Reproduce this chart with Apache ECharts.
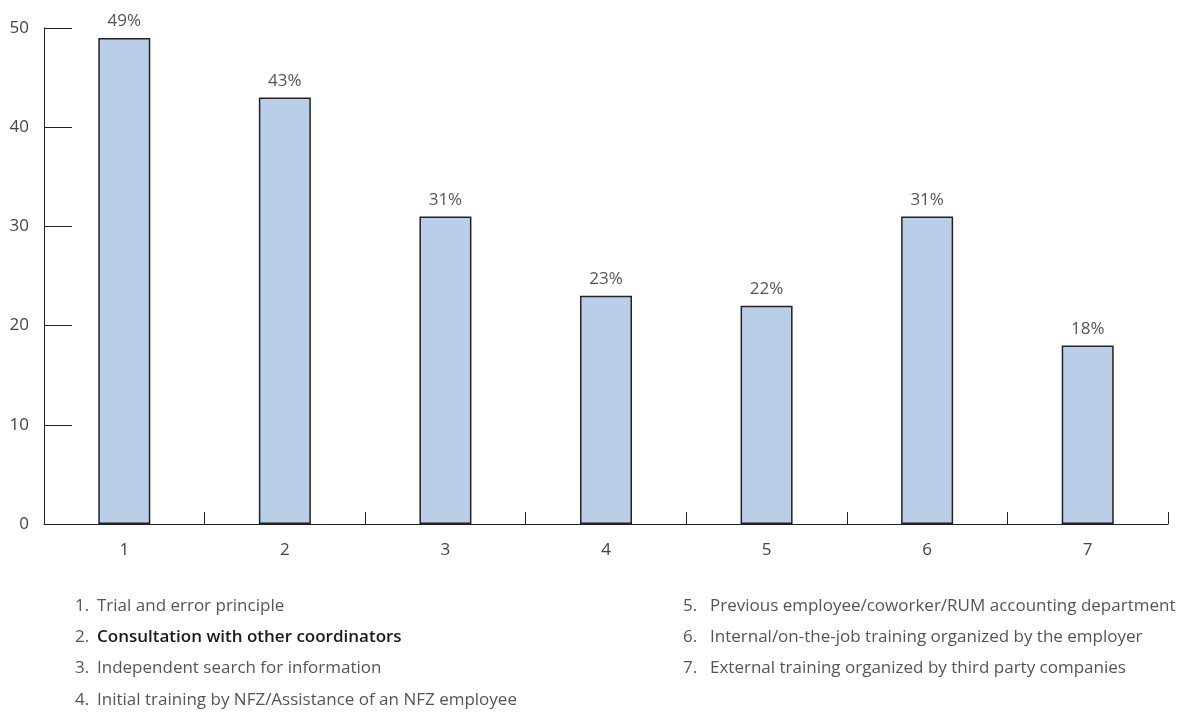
<!DOCTYPE html>
<html>
<head>
<meta charset="utf-8">
<script src="https://cdn.jsdelivr.net/npm/echarts@6/dist/echarts.min.js"></script>
<style>
  html, body { margin: 0; padding: 0; background: #fff; }
  #chart { width: 1180px; height: 713px; }
</style>
</head>
<body>
<div id="chart"></div>
<script>
// categories and values
var categories = ['1', '2', '3', '4', '5', '6', '7'];
var values = [49, 43, 31, 23, 22, 31, 18];
var yTicks = [0, 10, 20, 30, 40, 50];
var notesLeft = [
  'Trial and error principle',
  'Consultation with other coordinators',
  'Independent search for information',
  'Initial training by NFZ/Assistance of an NFZ employee'
];
var notesRight = [
  'Previous employee/coworker/RUM accounting department',
  'Internal/on-the-job training organized by the employer',
  'External training organized by third party companies'
];

var font = '"Open Sans", "Noto Sans", sans-serif';

// the numbered explanations under the chart
var graphics = [];
function addNotes(list, start, numX, textX) {
  for (var i = 0; i < list.length; i++) {
    var n = start + i;
    var strong = n === 2;
    var y = 606 + i * 31.3;
    graphics.push({
      type: 'text', x: numX, y: y,
      style: {
        text: n + '.', fill: '#555', fontSize: 17, fontFamily: font,
        verticalAlign: 'middle'
      }
    });
    graphics.push({
      type: 'text', x: textX, y: y,
      style: {
        text: list[i],
        fill: strong ? '#1a1a1a' : '#555',
        fontSize: 17,
        fontWeight: strong ? 600 : 'normal',
        fontFamily: font,
        verticalAlign: 'middle'
      }
    });
  }
}
addNotes(notesLeft, 1, 75, 97);
addNotes(notesRight, 5, 683, 710);

var chart = echarts.init(document.getElementById('chart'));
chart.setOption({
  animation: false,
  grid: { left: 44, right: 12, top: 28, height: 496, containLabel: false },
  xAxis: {
    type: 'category',
    data: categories,
    axisLine: { lineStyle: { color: '#222', width: 1 } },
    axisTick: { show: true, inside: true, length: 12, lineStyle: { color: '#222' } },
    axisLabel: { color: '#444', fontSize: 17, fontFamily: font, margin: 18 }
  },
  yAxis: {
    type: 'value',
    min: yTicks[0],
    max: yTicks[yTicks.length - 1],
    interval: 10,
    splitLine: { show: false },
    axisLine: { show: true, lineStyle: { color: '#222', width: 1 } },
    axisTick: { show: true, inside: true, length: 28, lineStyle: { color: '#222' } },
    axisLabel: { color: '#444', fontSize: 17, fontFamily: font, margin: 15 }
  },
  series: [{
    type: 'bar',
    data: values,
    barWidth: 52,
    itemStyle: { color: '#bacee7', borderColor: '#222', borderWidth: 1.5 },
    label: {
      show: true,
      position: 'top',
      distance: 8,
      formatter: '{c}%',
      color: '#555',
      fontSize: 17,
      fontFamily: font
    }
  }],
  graphic: graphics
});
</script>
</body>
</html>
